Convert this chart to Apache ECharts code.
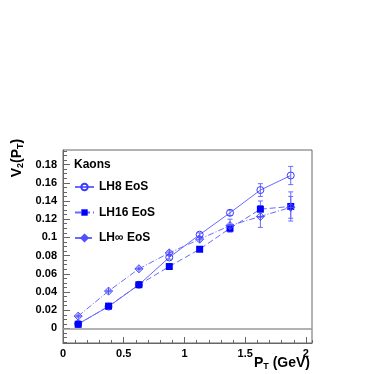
<!DOCTYPE html>
<html>
<head>
<meta charset="utf-8">
<script src="https://cdn.jsdelivr.net/npm/echarts@6/dist/echarts.min.js"></script>
<style>
  html,body{margin:0;padding:0;background:#fff;}
  #main{width:374px;height:374px;}
</style>
</head>
<body>
<div id="main"></div>
<script>
// pT bin centres (GeV)
var pt = [0.125, 0.375, 0.625, 0.875, 1.125, 1.375, 1.625, 1.875];
// v2 for each EoS, with errors
var lh8 = [0.005, 0.024, 0.048, 0.078, 0.103, 0.127, 0.152, 0.168];
var lh8Err = [0.001, 0.001, 0.001, 0.002, 0.002, 0.003, 0.007, 0.010];
var lh16 = [0.0045, 0.0245, 0.048, 0.068, 0.087, 0.110, 0.131, 0.134];
var lh16Err = [0.001, 0.001, 0.001, 0.002, 0.002, 0.004, 0.009, 0.016];
var lhInf = [0.0135, 0.041, 0.0655, 0.083, 0.098, 0.113, 0.123, 0.133];
var lhInfErr = [0.001, 0.001, 0.001, 0.002, 0.002, 0.007, 0.012, 0.012];
// tick positions
var yMajor = [0, 0.02, 0.04, 0.06, 0.08, 0.1, 0.12, 0.14, 0.16, 0.18];
var xMajor = [0, 0.5, 1, 1.5, 2];
var seriesNames = ['LH8 EoS', 'LH16 EoS', 'LH\u221e EoS'];

var yMinor = [];
for (var i = -3; i <= 39; i++) yMinor.push(+(i * 0.005).toFixed(3));

var lineCol = '#6a6aff';
var markCol = '#3a3aff';
var axisCol = '#666';
var font = 'Liberation Sans, Arial, Helvetica, sans-serif';

function pairs(ys) {
  return pt.map(function (x, k) { return [x, ys[k]]; });
}
function errData(ys, es) {
  return pt.map(function (x, k) { return [x, ys[k], es[k]]; });
}
function errRender(params, api) {
  var x = api.value(0), y = api.value(1), e = api.value(2);
  var lo = api.coord([x, y - e]);
  var hi = api.coord([x, y + e]);
  var c = 2.5;
  var st = { stroke: lineCol, lineWidth: 1 };
  return {
    type: 'group',
    children: [
      { type: 'line', shape: { x1: lo[0], y1: lo[1], x2: hi[0], y2: hi[1] }, style: st },
      { type: 'line', shape: { x1: lo[0] - c, y1: lo[1], x2: lo[0] + c, y2: lo[1] }, style: st },
      { type: 'line', shape: { x1: hi[0] - c, y1: hi[1], x2: hi[0] + c, y2: hi[1] }, style: st }
    ]
  };
}

var chart = echarts.init(document.getElementById('main'));
var option = {
  animation: false,
  backgroundColor: '#fff',
  grid: {
    left: 63, right: 62, top: 150, bottom: 31,
    show: true, borderColor: axisCol, borderWidth: 1, backgroundColor: 'transparent'
  },
  xAxis: [
    {
      type: 'value', min: 0, max: 2.05, position: 'bottom',
      axisLine: { show: true, onZero: false, lineStyle: { color: axisCol } },
      axisTick: { inside: true, length: 6, customValues: xMajor, lineStyle: { color: axisCol } },
      axisLabel: {
        customValues: xMajor, margin: 5, color: '#000',
        fontWeight: 'bold', fontSize: 11, fontFamily: font
      },
      splitLine: { show: false }
    },
    {
      type: 'value', min: 0, max: 2.05, interval: 0.1, position: 'bottom',
      axisLine: { show: true, onZero: false, lineStyle: { color: axisCol, opacity: 0 } },
      axisTick: { show: true, inside: true, length: 3, lineStyle: { color: axisCol } },
      axisLabel: { show: false },
      splitLine: { show: false }
    }
  ],
  yAxis: [
    {
      type: 'value', min: -0.016, max: 0.196, position: 'left',
      axisLine: { show: true, onZero: false, lineStyle: { color: axisCol } },
      axisTick: { inside: true, length: 7, customValues: yMajor, lineStyle: { color: axisCol } },
      axisLabel: {
        customValues: yMajor, margin: 6, color: '#000',
        fontWeight: 'bold', fontSize: 11, fontFamily: font,
        formatter: function (v) { return String(+v.toFixed(3)); }
      },
      splitLine: { show: false }
    },
    {
      type: 'value', min: -0.016, max: 0.196, position: 'left',
      axisLine: { show: true, onZero: false, lineStyle: { color: axisCol, opacity: 0 } },
      axisTick: { show: true, inside: true, length: 4, customValues: yMinor, lineStyle: { color: axisCol } },
      axisLabel: { show: false },
      splitLine: { show: false }
    }
  ],
  legend: {
    orient: 'vertical', left: 74, top: 181,
    itemWidth: 19, itemHeight: 8, itemGap: 13.5, padding: 0,
    data: seriesNames,
    textStyle: { color: '#000', fontWeight: 'bold', fontSize: 12, fontFamily: font }
  },
  graphic: [
    {
      type: 'text', left: 74, top: 159,
      style: { text: 'Kaons', font: 'bold 12px ' + font, fill: '#000' }
    },
    {
      type: 'text', x: 17, y: 158, rotation: Math.PI / 2,
      style: {
        text: '{v|V}{s|2}{v|(P}{s|T}{v|)}',
        align: 'center', verticalAlign: 'middle',
        rich: {
          v: { font: 'bold 14px ' + font, fill: '#000' },
          s: { font: 'bold 9px ' + font, fill: '#000', padding: [7, 0, 0, 0] }
        }
      }
    },
    {
      type: 'text', x: 310, y: 363,
      style: {
        text: '{v|P}{s|T}{v| (GeV)}',
        align: 'right', verticalAlign: 'middle',
        rich: {
          v: { font: 'bold 14px ' + font, fill: '#000' },
          s: { font: 'bold 9px ' + font, fill: '#000', padding: [7, 0, 0, 0] }
        }
      }
    }
  ],
  series: [
    {
      name: seriesNames[0], type: 'line', data: pairs(lh8), z: 5,
      symbol: 'circle', symbolSize: 7,
      itemStyle: { color: 'transparent', borderColor: markCol, borderWidth: 1 },
      lineStyle: { color: lineCol, width: 1, type: 'solid' },
      markLine: {
        silent: true, symbol: 'none', label: { show: false },
        lineStyle: { color: '#999', width: 1.5, type: 'solid' },
        data: [{ yAxis: 0 }]
      }
    },
    {
      name: seriesNames[1], type: 'line', data: pairs(lh16), z: 5,
      symbol: 'rect', symbolSize: 7,
      itemStyle: { color: '#0000ff' },
      lineStyle: { color: lineCol, width: 1, type: [6, 3] }
    },
    {
      name: seriesNames[2], type: 'line', data: pairs(lhInf), z: 5,
      symbol: 'path://M0,-1L1,0L0,1L-1,0Z M0,-1L0,1 M-1,0L1,0', symbolSize: 8,
      itemStyle: { color: 'transparent', borderColor: '#5050ff', borderWidth: 1 },
      lineStyle: { color: lineCol, width: 1, type: [6, 2, 1, 2] }
    },
    { type: 'custom', data: errData(lh8, lh8Err), renderItem: errRender, z: 4 },
    { type: 'custom', data: errData(lh16, lh16Err), renderItem: errRender, z: 4 },
    { type: 'custom', data: errData(lhInf, lhInfErr), renderItem: errRender, z: 4 }
  ]
};
chart.setOption(option);
</script>
</body>
</html>
